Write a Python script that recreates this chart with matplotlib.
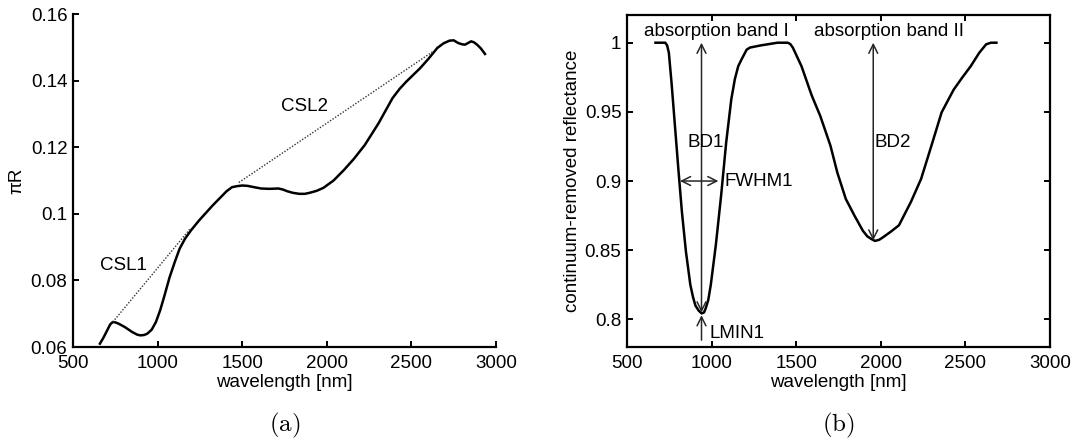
import matplotlib
matplotlib.use("Agg")
import matplotlib.pyplot as plt
from matplotlib.ticker import FuncFormatter

plt.rcParams['font.family'] = ['Liberation Sans', 'DejaVu Sans']
plt.rcParams['mathtext.fontset'] = 'cm'

FS = 13.5

# (a) spectrum, pi*R
wl_a = [659, 680, 700, 720, 735, 750, 770, 806, 850, 880, 898, 920, 939, 965,
        990, 1015, 1041, 1070, 1102, 1130, 1163, 1200, 1245, 1327, 1408, 1440,
        1469, 1500, 1531, 1570, 1612, 1660, 1714, 1740, 1765, 1800, 1837, 1870,
        1898, 1940, 1980, 2040, 2102, 2160, 2225, 2306, 2388, 2430, 2470, 2551,
        2600, 2653, 2690, 2725, 2750, 2776, 2800, 2817, 2835, 2853, 2870, 2888,
        2910, 2935]
piR = [0.0610, 0.0628, 0.0648, 0.0668, 0.0675, 0.0674, 0.0670, 0.0660, 0.0645,
       0.0637, 0.0635, 0.0636, 0.0640, 0.0652, 0.0675, 0.0710, 0.0755, 0.0808,
       0.0856, 0.0895, 0.0926, 0.0952, 0.0980, 0.1026, 0.1068, 0.1080, 0.1083,
       0.1085, 0.1084, 0.1080, 0.1076, 0.1075, 0.1076, 0.1073, 0.1068, 0.1063,
       0.1060, 0.1060, 0.1063, 0.1069, 0.1078, 0.1100, 0.1132, 0.1165, 0.1207,
       0.1272, 0.1347, 0.1375, 0.1397, 0.1437, 0.1465, 0.1498, 0.1512, 0.1520,
       0.1521, 0.1513, 0.1509, 0.1508, 0.1513, 0.1518, 0.1515, 0.1508, 0.1497,
       0.1480]

# continuum segments
csl1_x = [735, 1194]
csl1_y = [0.0675, 0.0956]
csl2_x = [1480, 2629]
csl2_y = [0.1094, 0.1488]

# (b) continuum-removed
wl_b = [668, 726, 737, 747, 763, 783, 803, 824, 848, 874, 890, 904, 924, 941,
        955, 965, 980, 995, 1025, 1056, 1086, 1116, 1137, 1157, 1177, 1207,
        1227, 1288, 1389, 1450, 1465, 1480, 1531, 1591, 1642, 1702, 1743, 1793,
        1844, 1894, 1920, 1945, 1965, 1990, 2016, 2060, 2107, 2178, 2238, 2299,
        2359, 2430, 2481, 2531, 2582, 2622, 2650, 2683]
crr = [1.0, 1.0, 0.998, 0.9928, 0.971, 0.94, 0.909, 0.878, 0.849, 0.825, 0.816,
       0.810, 0.8062, 0.8043, 0.805, 0.808, 0.814, 0.825, 0.854, 0.8896, 0.928,
       0.959, 0.9736, 0.983, 0.988, 0.995, 0.9965, 0.998, 1.0, 1.0, 0.999,
       0.9964, 0.983, 0.962, 0.947, 0.9256, 0.906, 0.887, 0.875, 0.864, 0.860,
       0.858, 0.8567, 0.8575, 0.8596, 0.8635, 0.868, 0.885, 0.9016, 0.9256,
       0.9496, 0.966, 0.9748, 0.983, 0.9928, 0.9988, 1.0, 1.0]

# feature markers (b)
bd1_x, bd1_lo, bd1_hi = 940, 0.805, 1.0
bd2_x, bd2_lo, bd2_hi = 1955, 0.857, 1.0
fwhm_y, fwhm_lo, fwhm_hi = 0.9, 813, 1040
lmin_x, lmin_lo, lmin_hi = 940, 0.785, 0.803

xticks = [500, 1000, 1500, 2000, 2500, 3000]
yticks_a = [0.06, 0.08, 0.10, 0.12, 0.14, 0.16]
yticks_b = [0.80, 0.85, 0.90, 0.95, 1.00]

fig = plt.figure(figsize=(10.75, 4.45), dpi=100)
ax1 = fig.add_axes([0.0679, 0.2202, 0.3935, 0.7483])
ax2 = fig.add_axes([0.5833, 0.2202, 0.3935, 0.746])

gfmt = FuncFormatter(lambda v, p: "%g" % round(v, 4))

# ---- panel (a)
ax1.plot(wl_a, piR, color='k', lw=1.8)
ax1.plot(csl1_x, csl1_y, color='0.2', lw=1.0, ls=(0, (1, 1.2)))
ax1.plot(csl2_x, csl2_y, color='0.2', lw=1.0, ls=(0, (1, 1.2)))
ax1.set_xlim(500, 3000)
ax1.set_ylim(0.06, 0.16)
ax1.set_xticks(xticks)
ax1.set_yticks(yticks_a)
ax1.yaxis.set_major_formatter(gfmt)
ax1.spines['top'].set_visible(False)
ax1.spines['right'].set_visible(False)
for s in ['left', 'bottom']:
    ax1.spines[s].set_linewidth(1.6)
ax1.tick_params(direction='in', length=4, width=1.4, labelsize=FS)
ax1.tick_params(axis='x', pad=6)
ax1.tick_params(axis='y', pad=4)
ax1.set_xlabel('wavelength [nm]', fontsize=FS, labelpad=1)
ax1.set_ylabel('πR', fontsize=FS, labelpad=4)
ax1.text(796, 0.0846, 'CSL1', fontsize=FS, ha='center', va='center')
ax1.text(1867, 0.1322, 'CSL2', fontsize=FS, ha='center', va='center')
ax1.text(0.5, -0.235, r'$\mathrm{(a)}$', transform=ax1.transAxes,
         fontsize=18, ha='center', va='center')

# ---- panel (b)
ax2.plot(wl_b, crr, color='k', lw=1.8)
ax2.set_xlim(500, 3000)
ax2.set_ylim(0.78, 1.02)
ax2.set_xticks(xticks)
ax2.set_yticks(yticks_b)
ax2.yaxis.set_major_formatter(gfmt)
for s in ax2.spines.values():
    s.set_linewidth(1.6)
ax2.tick_params(direction='in', length=4, width=1.4, labelsize=FS,
                top=True, right=True)
ax2.tick_params(axis='x', pad=6)
ax2.tick_params(axis='y', pad=4)
ax2.set_xlabel('wavelength [nm]', fontsize=FS, labelpad=1)
ax2.set_ylabel('continuum-removed reflectance', fontsize=FS, labelpad=3)

arr = dict(arrowstyle='<->', color='0.15', lw=1.1, mutation_scale=16,
           shrinkA=0, shrinkB=0)
ax2.annotate('', xy=(bd1_x, bd1_hi), xytext=(bd1_x, bd1_lo), arrowprops=arr)
ax2.annotate('', xy=(bd2_x, bd2_hi), xytext=(bd2_x, bd2_lo), arrowprops=arr)
ax2.annotate('', xy=(fwhm_hi, fwhm_y), xytext=(fwhm_lo, fwhm_y), arrowprops=arr)
ax2.annotate('', xy=(lmin_x, lmin_hi), xytext=(lmin_x, lmin_lo),
             arrowprops=dict(arr, arrowstyle='->'))

ax2.text(1025, 1.0084, 'absorption band I', fontsize=FS, ha='center', va='center')
ax2.text(2046, 1.0084, 'absorption band II', fontsize=FS, ha='center', va='center')
ax2.text(967, 0.928, 'BD1', fontsize=FS, ha='center', va='center')
ax2.text(1965, 0.928, 'BD2', fontsize=FS, ha='left', va='center')
ax2.text(1074, 0.9, 'FWHM1', fontsize=FS, ha='left', va='center')
ax2.text(985, 0.79, 'LMIN1', fontsize=FS, ha='left', va='center')
ax2.text(0.5, -0.235, r'$\mathrm{(b)}$', transform=ax2.transAxes,
         fontsize=18, ha='center', va='center')

fig.savefig('out.png', dpi=100)
